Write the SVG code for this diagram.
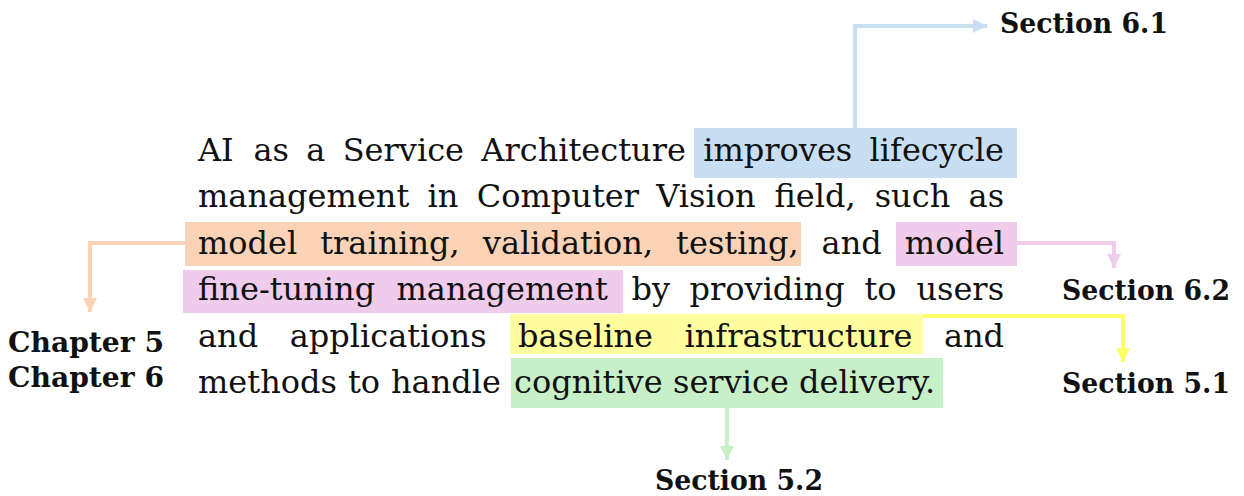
<svg xmlns="http://www.w3.org/2000/svg" width="1244" height="496" viewBox="0 0 1244 496">
<style>
.body{font-family:"DejaVu Serif","Liberation Serif",serif;font-size:32px;fill:#111}
.lbl{font-family:"DejaVu Serif","Liberation Serif",serif;font-weight:bold;font-size:28.5px;fill:#111}
.c{fill:none;stroke-width:4}
</style>
<defs>
<marker id="mb" viewBox="0 0 14 14" refX="14" refY="7" markerWidth="14" markerHeight="14" markerUnits="userSpaceOnUse" orient="auto"><path d="M0,0L14,7L0,14z" fill="#c8def2"/></marker>
<marker id="mo" viewBox="0 0 14 14" refX="14" refY="7" markerWidth="14" markerHeight="14" markerUnits="userSpaceOnUse" orient="auto"><path d="M0,0L14,7L0,14z" fill="#fad3b6"/></marker>
<marker id="mp" viewBox="0 0 14 14" refX="14" refY="7" markerWidth="14" markerHeight="14" markerUnits="userSpaceOnUse" orient="auto"><path d="M0,0L14,7L0,14z" fill="#f0ccec"/></marker>
<marker id="my" viewBox="0 0 14 14" refX="14" refY="7" markerWidth="14" markerHeight="14" markerUnits="userSpaceOnUse" orient="auto"><path d="M0,0L14,7L0,14z" fill="#ffff66"/></marker>
<marker id="mg" viewBox="0 0 14 14" refX="14" refY="7" markerWidth="14" markerHeight="14" markerUnits="userSpaceOnUse" orient="auto"><path d="M0,0L14,7L0,14z" fill="#c8f0c8"/></marker>
</defs>
<g id="highlights">
<rect x="694" y="128" width="323" height="50" fill="#c8def2"/>
<rect x="185" y="222" width="616" height="44" fill="#fad3b6"/>
<rect x="896" y="222" width="121" height="44" fill="#f0ccec"/>
<rect x="183" y="270" width="440" height="43" fill="#f0ccec"/>
<rect x="510" y="314" width="413" height="40" fill="#ffffa0"/>
<rect x="511" y="358" width="432" height="50" fill="#c8f0c8"/>
</g>
<g id="connectors">
<path class="c" d="M855,128V26H987" stroke="#c8def2" marker-end="url(#mb)"/>
<path class="c" d="M185,243H90V312" stroke="#fad3b6" marker-end="url(#mo)"/>
<path class="c" d="M1017,243H1114V268" stroke="#f0ccec" marker-end="url(#mp)"/>
<path class="c" d="M923,316H1123V362" stroke="#ffff66" marker-end="url(#my)"/>
<path class="c" d="M727,408V460" stroke="#c8f0c8" marker-end="url(#mg)"/>
</g>
<g id="paragraph" class="body">
<text y="160.5"><tspan x="198">AI</tspan><tspan x="253.5">as</tspan><tspan x="306.3">a</tspan><tspan x="342.7">Service</tspan><tspan x="481.3">Architecture</tspan><tspan x="703.2">improves</tspan><tspan x="869.6">lifecycle</tspan></text>
<text y="207"><tspan x="198">management</tspan><tspan x="427.6">in</tspan><tspan x="476.7">Computer</tspan><tspan x="656.3">Vision</tspan><tspan x="774.5">field,</tspan><tspan x="874.7">such</tspan><tspan x="968.6">as</tspan></text>
<text y="253.5"><tspan x="198">model</tspan><tspan x="320.2">training,</tspan><tspan x="482.8">validation,</tspan><tspan x="676.1">testing,</tspan><tspan x="821.6">and</tspan><tspan x="904.8">model</tspan></text>
<text y="300"><tspan x="198">fine-tuning</tspan><tspan x="396.5">management</tspan><tspan x="631.5">by</tspan><tspan x="689.5">providing</tspan><tspan x="864.5">to</tspan><tspan x="916.4">users</tspan></text>
<text y="346.5"><tspan x="198">and</tspan><tspan x="289.7">applications</tspan><tspan x="518.1">baseline</tspan><tspan x="684.5">infrastructure</tspan><tspan x="943.9">and</tspan></text>
<text y="393"><tspan x="198">methods</tspan><tspan x="348">to</tspan><tspan x="391">handle</tspan><tspan x="514">cognitive</tspan><tspan x="673">service</tspan><tspan x="799">delivery.</tspan></text>
</g>
<g id="label-s61"><text class="lbl" x="1000" y="33" textLength="168" lengthAdjust="spacingAndGlyphs">Section 6.1</text></g>
<g id="label-s62"><text class="lbl" x="1062" y="300" textLength="168" lengthAdjust="spacingAndGlyphs">Section 6.2</text></g>
<g id="label-s51"><text class="lbl" x="1062" y="393" textLength="168" lengthAdjust="spacingAndGlyphs">Section 5.1</text></g>
<g id="label-s52"><text class="lbl" x="655" y="490" textLength="168" lengthAdjust="spacingAndGlyphs">Section 5.2</text></g>
<g id="label-ch"><text class="lbl" x="8" y="352" textLength="156" lengthAdjust="spacingAndGlyphs">Chapter 5</text><text class="lbl" x="8" y="387" textLength="156" lengthAdjust="spacingAndGlyphs">Chapter 6</text></g>
</svg>
